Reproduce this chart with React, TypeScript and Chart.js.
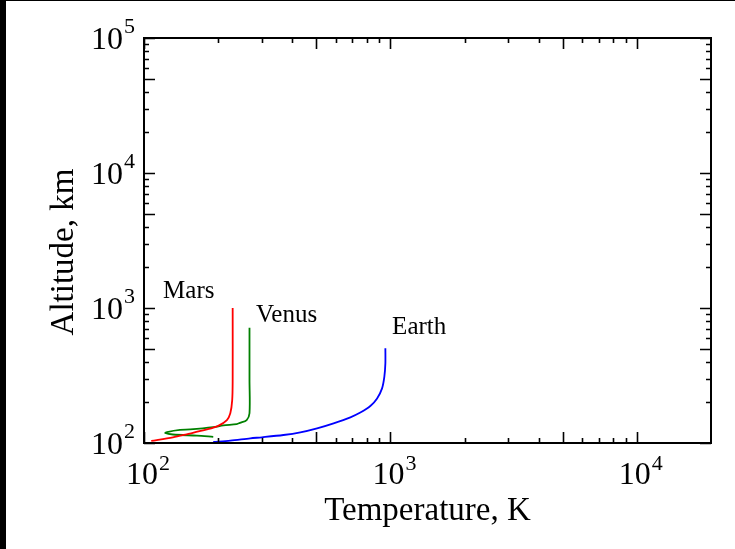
import { useEffect, useRef } from "react";
import { Chart, registerables } from "chart.js";

Chart.register(...registerables);

// ---- data (temperature K, altitude km) ----
const marsTemp = [229, 229, 228, 224, 217, 200, 180, 149, 131, 107];
const marsAlt = [1000, 293, 208, 166, 148, 134, 126, 116, 110, 103.5];

const venusTemp = [268, 268, 268, 261, 245, 238, 210, 191, 154, 140, 124, 122, 131, 164, 191];
const venusAlt = [714, 293, 166, 148, 141, 138, 135, 131, 126, 125, 120.6, 118.6, 115.6, 113.3, 111.1];

const earthTemp = [954, 954, 945, 925, 883, 829, 755, 688, 588, 504, 431, 368, 301, 270, 224, 191];
const earthAlt = [503, 389, 310, 254, 214, 188, 168, 155, 140, 128.5, 120, 114.6, 110.2, 108.3, 104, 101.7];

// ---- axes ----
const xMin = 100;
const xMax = 20000;
const yMin = 100;
const yMax = 100000;
const xMajorTicks = [100, 1000, 10000];
const xTickExponents = ["2", "3", "4"];
const yMajorTicks = [100, 1000, 10000, 100000];
const yTickExponents = ["2", "3", "4", "5"];
const xMinorTicks = [200, 300, 400, 500, 600, 700, 800, 900, 2000, 3000, 4000, 5000, 6000, 7000, 8000, 9000];
const yMinorTicks = [
  200, 300, 400, 500, 600, 700, 800, 900,
  2000, 3000, 4000, 5000, 6000, 7000, 8000, 9000,
  20000, 30000, 40000, 50000, 60000, 70000, 80000, 90000,
];
const xTitle = "Temperature, K";
const yTitle = "Altitude, km";

// ---- curve labels ----
const curveNames = ["Mars", "Venus", "Earth"];
const curveLabelTemp = [119.5, 285, 1016];
const curveLabelAlt = [1180, 792, 638];

const FONT = '"Liberation Serif", "Times New Roman", serif';

function isLong(v: number) {
  const m = v / Math.pow(10, Math.floor(Math.log10(v) + 1e-9));
  return Math.abs(m - 1) < 1e-6 || Math.abs(m - 5) < 1e-6;
}

const framePlugin = {
  id: "framePlugin",
  afterDraw(chart: any) {
    const { ctx, chartArea } = chart;
    const { left, top, right, bottom } = chartArea;
    const xs = chart.scales.x;
    const ys = chart.scales.y;
    ctx.save();

    // outer page frame strips
    ctx.fillStyle = "#000";
    ctx.fillRect(0, 0, 6, chart.height);
    ctx.fillRect(0, 0, chart.width, 1);

    // plot frame
    ctx.strokeStyle = "#000";
    ctx.lineWidth = 2;
    ctx.strokeRect(left, top, right - left, bottom - top);

    // ticks
    ctx.lineWidth = 1.6;
    ctx.beginPath();
    [...xMajorTicks, ...xMinorTicks].forEach((v) => {
      const px = Math.round(xs.getPixelForValue(v)) + 0.5;
      const len = isLong(v) ? 11 : 5;
      ctx.moveTo(px, bottom);
      ctx.lineTo(px, bottom - len);
      ctx.moveTo(px, top);
      ctx.lineTo(px, top + len);
    });
    [...yMajorTicks, ...yMinorTicks].forEach((v) => {
      const py = Math.round(ys.getPixelForValue(v)) + 0.5;
      const len = isLong(v) ? 11 : 5;
      ctx.moveTo(left, py);
      ctx.lineTo(left + len, py);
      ctx.moveTo(right, py);
      ctx.lineTo(right - len, py);
    });
    ctx.stroke();

    // tick labels
    ctx.fillStyle = "#000";
    ctx.textBaseline = "alphabetic";
    const baseFont = `32px ${FONT}`;
    const supFont = `22px ${FONT}`;
    ctx.font = baseFont;
    const w10 = ctx.measureText("10").width;

    xMajorTicks.forEach((v, i) => {
      const px = xs.getPixelForValue(v);
      const x0 = px - 2 - w10 / 2;
      ctx.font = baseFont;
      ctx.textAlign = "left";
      ctx.fillText("10", x0, bottom + 40.5);
      ctx.font = supFont;
      ctx.fillText(xTickExponents[i], x0 + w10 + 1, bottom + 26.5);
    });

    yMajorTicks.forEach((v, i) => {
      const py = ys.getPixelForValue(v);
      ctx.font = supFont;
      const we = ctx.measureText(yTickExponents[i]).width;
      const xEnd = left - 9;
      const x0 = xEnd - we - 1 - w10;
      ctx.textAlign = "left";
      ctx.font = baseFont;
      ctx.fillText("10", x0, py + 10.5);
      ctx.font = supFont;
      ctx.fillText(yTickExponents[i], x0 + w10 + 1, py - 5);
    });

    // axis titles
    ctx.font = `33px ${FONT}`;
    ctx.textAlign = "center";
    ctx.fillText(xTitle, (left + right) / 2, bottom + 77);
    ctx.save();
    ctx.translate(73, 252);
    ctx.rotate(-Math.PI / 2);
    ctx.fillText(yTitle, 0, 0);
    ctx.restore();

    // curve labels
    ctx.font = `25px ${FONT}`;
    ctx.textAlign = "left";
    curveNames.forEach((name, i) => {
      ctx.fillText(name, xs.getPixelForValue(curveLabelTemp[i]), ys.getPixelForValue(curveLabelAlt[i]));
    });

    ctx.restore();
  },
};

function toPoints(t: number[], a: number[]) {
  return t.map((x, i) => ({ x, y: a[i] }));
}

export default function App() {
  const ref = useRef<HTMLCanvasElement>(null);
  useEffect(() => {
    if (!ref.current) return;
    const chart = new Chart(ref.current, {
      type: "line",
      data: {
        datasets: [
          { label: "Mars", data: toPoints(marsTemp, marsAlt), borderColor: "#ff0000" },
          { label: "Venus", data: toPoints(venusTemp, venusAlt), borderColor: "#008000" },
          { label: "Earth", data: toPoints(earthTemp, earthAlt), borderColor: "#0000ff" },
        ].map((d) => ({ ...d, borderWidth: 1.8, pointRadius: 0, tension: 0.3, fill: false })),
      },
      options: {
        animation: false,
        responsive: false,
        events: [],
        layout: { padding: { left: 144, top: 38, right: 24, bottom: 106 } },
        plugins: { legend: { display: false }, tooltip: { enabled: false }, title: { display: false } },
        scales: {
          x: { type: "logarithmic", min: xMin, max: xMax, display: false },
          y: { type: "logarithmic", min: yMin, max: yMax, display: false },
        },
      },
      plugins: [framePlugin],
    });
    return () => chart.destroy();
  }, []);
  return (
    <div style={{ position: "fixed", left: 0, top: 0, width: 735, height: 549, background: "#fff" }}>
      <canvas ref={ref} width={735} height={549} style={{ display: "block" }} />
    </div>
  );
}
